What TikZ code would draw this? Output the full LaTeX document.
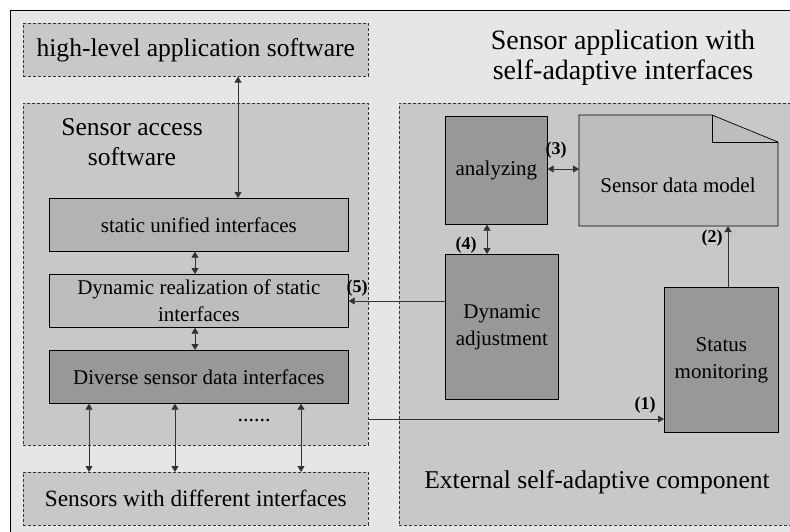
\documentclass[tikz,border=0pt]{standalone}
\usepackage{fontspec}
\setmainfont{Liberation Serif}
\usetikzlibrary{arrows.meta}
\definecolor{outerbg}{HTML}{E6E6E6}
\definecolor{dashbg}{HTML}{C8C8C8}
\definecolor{midbox}{HTML}{B3B3B3}
\definecolor{lightbox}{HTML}{BDBDBD}
\definecolor{darkbox}{HTML}{989898}
\definecolor{arrowc}{HTML}{333333}
\tikzset{
  dashbox/.style={draw=black!80, fill=dashbg, dashed, dash pattern=on 3pt off 2pt, line width=0.6pt, anchor=north west, inner sep=0pt},
  solidbox/.style={draw=black, line width=0.7pt, anchor=north west, inner sep=0pt, align=center, font=\fontsize{21}{27}\selectfont},
  bigtext/.style={font=\fontsize{25.6}{30}\selectfont, align=center},
  numlabel/.style={font=\bfseries\fontsize{18}{20}\selectfont, inner sep=0pt},
  conn/.style={draw=arrowc, line width=0.8pt},
  tip/.style={-{Triangle[length=6pt,width=7pt]}},
  tips/.style={{Triangle[length=6pt,width=7pt]}-{Triangle[length=6pt,width=7pt]}},
}
\begin{document}
\begin{tikzpicture}[x=1pt,y=-1pt]
\useasboundingbox (0,0) rectangle (790,531);
\clip (0,0) rectangle (790,531);
\fill[white] (0,0) rectangle (790,531);
% outer box
\draw[fill=outerbg, line width=0.8pt] (10,10) rectangle (820,560);
% left column
\node[dashbox, minimum width=345pt, minimum height=53pt, font=\fontsize{25.6}{28}\selectfont] (hl) at (23,23) {high-level application software};
\node[dashbox, minimum width=345pt, minimum height=342pt] (sas) at (23,103) {};
\node[bigtext] (sastitle) at (132,142) {Sensor access\\software};
\node[solidbox, fill=midbox, minimum width=299pt, minimum height=53pt] (sui) at (49,198) {static unified interfaces};
\node[solidbox, fill=lightbox, minimum width=299pt, minimum height=53pt] (drs) at (49,274) {Dynamic realization of static\\interfaces};
\node[solidbox, fill=darkbox, minimum width=299pt, minimum height=53pt] (dsd) at (49,350) {Diverse sensor data interfaces};
\node[dashbox, minimum width=345pt, minimum height=53pt, font=\fontsize{23.3}{26}\selectfont] (swd) at (23,472) {Sensors with different interfaces};
\node[font=\fontsize{22}{24}\selectfont, inner sep=0pt] (dots) at (254,421) {......};
% right part
\node[font=\fontsize{28}{30}\selectfont, align=center] (apptitle) at (623,58) {Sensor application with\\self-adaptive interfaces};
\node[dashbox, minimum width=420pt, minimum height=422pt] (ext) at (399,103) {};
\node[bigtext] (exttitle) at (597,482) {External self-adaptive component};
\node[solidbox, fill=darkbox, minimum width=102pt, minimum height=108pt] (ana) at (445,116) {analyzing};
\node[solidbox, fill=darkbox, minimum width=113pt, minimum height=145pt] (dyn) at (445,254) {Dynamic\\adjustment};
\node[solidbox, fill=darkbox, minimum width=114pt, minimum height=145pt] (stm) at (664,287) {Status\\monitoring};
% document shape
\coordinate (m1) at (579,115);
\coordinate (m2) at (712,115);
\coordinate (m3) at (778,142);
\coordinate (m4) at (778,226);
\coordinate (m5) at (579,226);
\coordinate (mf) at (712,142);
\draw[fill=lightbox, line width=0.7pt] (m1) -- (m2) -- (m3) -- (m4) -- (m5) -- cycle;
\draw[line width=0.7pt] (m2) -- (mf) -- (m3);
\node[font=\fontsize{21}{24}\selectfont] (sdm) at (678,185) {Sensor data model};
\coordinate (sdmleft) at (579,169);
\coordinate (sdmbottom) at (728,226);
% connectors
\draw[conn, tips] (hl.south -| 238,0) -- (sui.north -| 238,0);
\draw[conn, tips] (sui.south -| 195,0) -- (drs.north -| 195,0);
\draw[conn, tips] (drs.south -| 195,0) -- (dsd.north -| 195,0);
\draw[conn, tips] (dsd.south -| 89,0) -- (swd.north -| 89,0);
\draw[conn, tips] (dsd.south -| 175,0) -- (swd.north -| 175,0);
\draw[conn, tips] (dsd.south -| 301,0) -- (swd.north -| 301,0);
\draw[conn, tips] (ana.east |- 0,169) -- (sdmleft);
\draw[conn, tips] (ana.south -| 487,0) -- (dyn.north -| 487,0);
\draw[conn, tip] (stm.north -| 728,0) -- (sdmbottom);
\draw[conn, tip] (dyn.west |- 0,301) -- (drs.east |- 0,301);
\draw[conn, tip] (sas.east |- 0,419) -- (stm.west |- 0,419);
% labels
\node[numlabel] (l1) at (645,405) {(1)};
\node[numlabel] (l2) at (712,238) {(2)};
\node[numlabel] (l3) at (556,150) {(3)};
\node[numlabel] (l4) at (466,245) {(4)};
\node[numlabel] (l5) at (357,288) {(5)};
\end{tikzpicture}
\end{document}
